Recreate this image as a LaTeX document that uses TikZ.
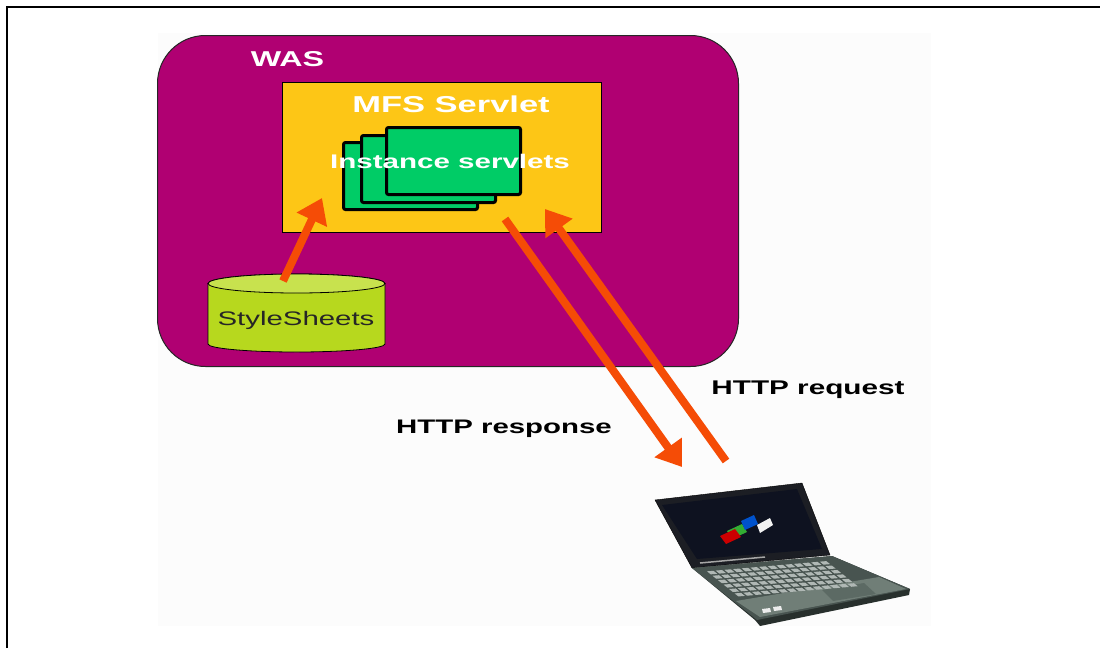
\documentclass[tikz,border=0pt]{standalone}
\usepackage{fontspec}
\setmainfont{Liberation Sans}
\newfontfamily\widesans[FakeStretch=1.5]{Liberation Sans}
\usetikzlibrary{arrows.meta}

\definecolor{wasfill}{RGB}{176,0,114}
\definecolor{mfsfill}{RGB}{253,198,22}
\definecolor{instfill}{RGB}{0,204,102}
\definecolor{dbbody}{RGB}{183,216,30}
\definecolor{dbtop}{RGB}{200,226,78}
\definecolor{flowc}{RGB}{245,76,6}
\definecolor{panel}{RGB}{252,252,252}
\definecolor{bezel}{RGB}{28,30,36}
\definecolor{display}{RGB}{14,18,32}
\definecolor{deck}{RGB}{72,84,80}
\definecolor{deckedge}{RGB}{40,48,45}
\definecolor{keyc}{RGB}{176,184,181}
\definecolor{palm}{RGB}{112,126,119}
\definecolor{pad}{RGB}{92,106,100}

\tikzset{
  lbl/.style={anchor=base, inner sep=0pt, text=white,
    font=\widesans\bfseries\fontsize{#1}{#1}\selectfont},
  darklbl/.style={anchor=base, inner sep=0pt, text=black,
    font=\widesans\bfseries\fontsize{#1}{#1}\selectfont},
  sheet/.style={draw=black, line width=3pt, fill=instfill, rounded corners=2pt,
    minimum width=134pt, minimum height=67pt, anchor=north west, inner sep=0pt},
  flow/.style={draw=flowc, line width=8pt,
    -{Triangle[width=32pt,length=24pt]}},
}

\begin{document}
\begin{tikzpicture}[x=1pt,y=-1pt]
\useasboundingbox (0,0) rectangle (1100,648);
\fill[white] (0,0) rectangle (1100,648);
\fill[panel] (158,33) rectangle (931,626);

% page frame
\draw[line width=1.5pt] (7,648) -- (7,7) -- (1100,7);

% application server
\node (was) [draw=black!85, line width=1pt, fill=wasfill, rounded corners=48pt,
  minimum width=581pt, minimum height=331pt, anchor=north west, inner sep=0pt]
  at (157,35) {};
\node (wastitle) [lbl=21.5] at (287.5,66) {WAS};

% MFS servlet with its instance servlets
\node (mfs) [draw=black, line width=1pt, fill=mfsfill,
  minimum width=319pt, minimum height=150pt, anchor=north west, inner sep=0pt]
  at (282,82) {};
\node (mfstitle) [lbl=23] at (451,112) {MFS Servlet};
\node (inst3) [sheet] at (342,141) {};
\node (inst2) [sheet] at (360,134) {};
\node (inst1) [sheet] at (385,126) {};
\node (insttitle) [lbl=19.7] at (450,168) {Instance servlets};

% style sheet store
\fill[dbbody, draw=black, line width=0.8pt]
  (208,283.5) -- (208,344) arc[start angle=180, end angle=360, x radius=88.5pt, y radius=8pt]
  -- (385,283.5) arc[start angle=0, end angle=180, x radius=88.5pt, y radius=9.5pt] -- cycle;
\fill[dbtop, draw=black, line width=0.8pt] (296.5,283.5) ellipse[x radius=88.5pt, y radius=9.5pt];
\node (sheets) [anchor=base, inner sep=0pt, text=black!85,
  font=\widesans\fontsize{19.6}{19.6}\selectfont] at (296,325) {StyleSheets};

% connector end points
\coordinate (sheetsout) at (283,281);
\coordinate (mfsin) at (322,198);
\coordinate (respout) at (505,219);
\coordinate (respin) at (682,467);
\coordinate (reqout) at (726,461);
\coordinate (reqin) at (545,209);

\draw[flow] (sheetsout) -- (mfsin);
\draw[flow] (respout) -- (respin);
\draw[flow] (reqout) -- (reqin);

\node (resplbl) [darklbl=19.6] at (504,433) {HTTP response};
\node (reqlbl) [darklbl=19.8] at (808,394) {HTTP request};

% laptop: lid
\fill[bezel, draw=black] (655,500) -- (802,483) -- (830,555) -- (692,568) -- cycle;
\fill[display] (662,505) -- (797,489) -- (822,549) -- (697,559) -- cycle;
\draw[gray!70, line width=1.5pt] (700,563) -- (765,557);
% logo on the display
\fill[green!60!black!80] (727,531) -- (742,524) -- (747,532) -- (732,539) -- cycle;
\fill[red!80!black] (720,536) -- (735,529) -- (741,537) -- (726,544) -- cycle;
\fill[blue!60!cyan!80!black] (741,521) -- (754,515) -- (758,524) -- (745,530) -- cycle;
\fill[white!90!gray] (757,525) -- (770,518) -- (773,525) -- (760,533) -- cycle;

% laptop: base
\fill[deckedge] (692,568) -- (832,556) -- (910,589) -- (909,595) -- (760,626) -- (755,620) -- cycle;
\fill[deck] (692,568) -- (832,556) -- (910,589) -- (757,620) -- cycle;
% palm rest, touch pad and status lights
\fill[palm] (736,601) -- (879,577) -- (906,589) -- (760,617) -- cycle;
\fill[pad] (822,590) -- (864,583) -- (876,594) -- (833,601) -- cycle;
\fill[white!85!gray] (762,609) -- (770,608) -- (771,612) -- (763,613) -- cycle;
\fill[white!85!gray] (773,607) -- (781,606) -- (782,610) -- (774,611) -- cycle;
% keyboard
\begin{scope}[shift={(692,568)}, x={(140pt,12pt)}, y={(65pt,-52pt)}]
  \foreach \r in {0,...,5}
    \foreach \c in {0,...,13}
      \fill[keyc] ({0.07+\c*0.062},{0.08+\r*0.085}) -- ++(0.046,0) -- ++(0,0.058) -- ++(-0.046,0) -- cycle;
\end{scope}
\end{tikzpicture}
\end{document}
